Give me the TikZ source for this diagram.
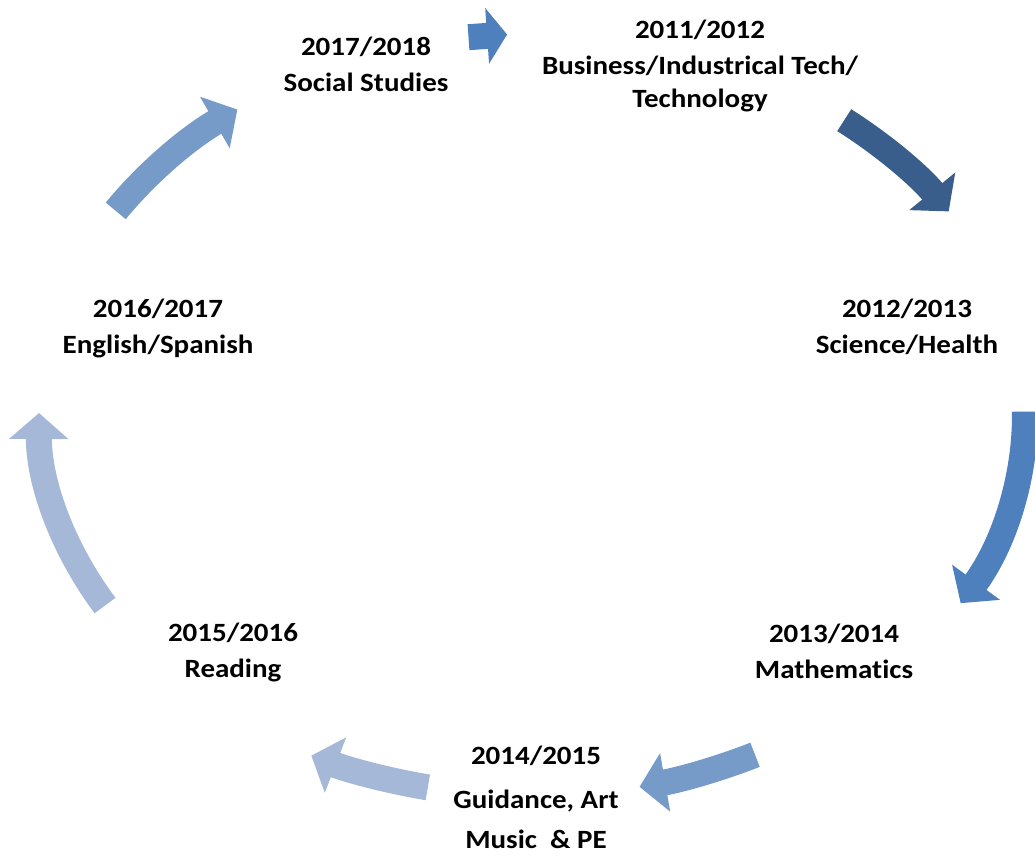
\documentclass[tikz,border=0pt]{standalone}
\usepackage{fontspec}
\setmainfont{Carlito}[FakeStretch=1.1, Ligatures=NoCommon]
\usepackage{xcolor}
\usetikzlibrary{arrows.meta}
\definecolor{cycdark}{RGB}{57,94,139}
\definecolor{cycmid}{RGB}{78,128,189}
\definecolor{cycsoft}{RGB}{118,155,200}
\definecolor{cycpale}{RGB}{166,184,215}

\begin{document}
\begin{tikzpicture}[
    x=0.02cm, y=-0.02cm,
    >={Triangle[width=1.16cm,length=0.52cm]},
    every node/.style={align=center, font=\fontsize{15}{20.5}\selectfont\bfseries},
    cyc/.style={draw=#1, line width=0.52cm, ->}]
  \useasboundingbox (0,0) rectangle (1035,859);
  \clip (0,0) rectangle (1035,859);
  \node (Y11) at (700,66) {2011/2012\\Business/Industrical Tech/\\[-1.7pt]Technology};
  \node (Y12) at (907,327) {2012/2013\\Science/Health};
  \node (Y13) at (834,651) {2013/2014\\Mathematics};
  \node (Y14) at (536,797) {2014/2015\\[4.5pt]Guidance, Art\\[2.3pt]Music\ \ \& PE};
  \node (Y15) at (233,652) {2015/2016\\Reading};
  \node (Y16) at (158,328) {2016/2017\\English/Spanish};
  \node (Y17) at (366,64) {2017/2018\\Social Studies};
  \begin{scope}[shift={(532,415)}]
    \coordinate (S1) at (-50.7:493 and 381);
    \coordinate (S2) at (-0.5:493 and 381);
    \coordinate (S3) at (63.1:493 and 381);
    \coordinate (S4) at (102.2:493 and 381);
    \coordinate (S5) at (150:493 and 381);
    \coordinate (S6) at (212.4:493 and 381);
    \coordinate (S7) at (262.6:493 and 381);
    \coordinate (T7) at (267.1:493 and 381);
    \draw[cyc=cycdark] (S1) arc[start angle=-50.7, end angle=-32.3, x radius=493, y radius=381];
    \draw[cyc=cycmid] (S2) arc[start angle=-0.5, end angle=29.6, x radius=493, y radius=381];
    \draw[cyc=cycsoft] (S3) arc[start angle=63.1, end angle=77.4, x radius=493, y radius=381];
    \draw[cyc=cycpale] (S4) arc[start angle=102.2, end angle=116.6, x radius=493, y radius=381];
    \draw[cyc=cycpale] (S5) arc[start angle=150, end angle=180.3, x radius=493, y radius=381];
    \draw[cyc=cycsoft] (S6) arc[start angle=212.4, end angle=233.3, x radius=493, y radius=381];
    \draw[cyc=cycmid, -{Triangle[width=1.1cm,length=0.4cm]}] (S7) -- (T7);
  \end{scope}
\end{tikzpicture}
\end{document}
